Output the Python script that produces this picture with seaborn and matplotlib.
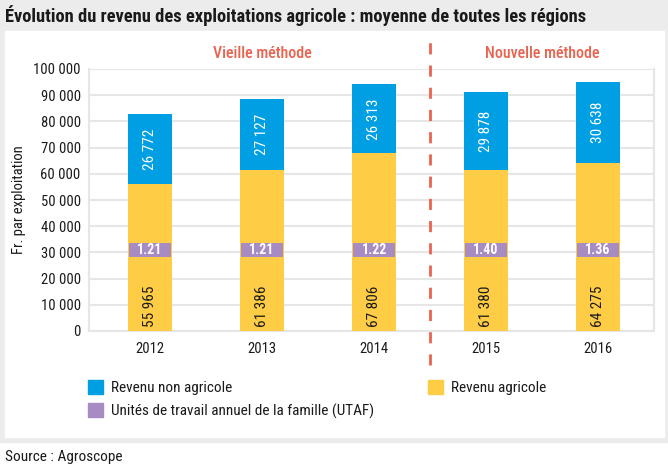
import matplotlib
matplotlib.use("Agg")
import matplotlib.pyplot as plt
import matplotlib.patches as mpatches
from matplotlib.ticker import FuncFormatter, FixedLocator
import seaborn as sns
import pandas as pd

years = ["2012", "2013", "2014", "2015", "2016"]
revenu_agricole = [55965, 61386, 67806, 61380, 64275]
revenu_non_agricole = [26772, 27127, 26313, 29878, 30638]
utaf = [1.21, 1.21, 1.22, 1.40, 1.36]

BLUE = "#009fe3"
YELLOW = "#fecd45"
PURPLE = "#a68cc3"
RED = "#ea6350"
GRID = "#e6e6e6"
TXT = "#1a1a1a"

sns.set_style("white")
plt.rcParams["font.family"] = ["Roboto Condensed", "Roboto", "DejaVu Sans"]

df = pd.DataFrame({"annee": years, "agri": revenu_agricole, "non_agri": revenu_non_agricole})
df["total"] = df["agri"] + df["non_agri"]

fig = plt.figure(figsize=(6.68, 4.70), dpi=100, facecolor="white")
# cadre gris et panneau blanc
fig.add_artist(mpatches.Rectangle((0, 28 / 470), 1, 1, transform=fig.transFigure, color="#ececec", zorder=-3))
fig.add_artist(mpatches.Rectangle((5 / 668, 33 / 470), 659 / 668, 406 / 470, transform=fig.transFigure,
                                  color="white", zorder=-2))

ax = fig.add_axes([89 / 668, 139 / 470, 565 / 668, 262 / 470])
ax.set_facecolor("none")

sns.barplot(data=df, x="annee", y="total", color=BLUE, width=0.4, linewidth=0, saturation=1, ax=ax, zorder=3)
sns.barplot(data=df, x="annee", y="agri", color=YELLOW, width=0.4, linewidth=0, saturation=1, ax=ax, zorder=3)
ax.bar(range(len(years)), [5300] * len(years), bottom=28400, width=0.37, color=PURPLE, linewidth=0, zorder=4)

for i in range(len(years)):
    ax.text(i, revenu_agricole[i] + revenu_non_agricole[i] / 2, f"{revenu_non_agricole[i]:,}".replace(",", " "),
            rotation=90, ha="center", va="center", color="white", fontsize=11, zorder=5)
    ax.text(i, 1500, f"{revenu_agricole[i]:,}".replace(",", " "),
            rotation=90, ha="center", va="bottom", color=TXT, fontsize=11, zorder=5)
    ax.text(i, 31050, f"{utaf[i]:.2f}", ha="center", va="center", color="white",
            fontsize=10, fontweight="bold", zorder=5)

ax.set_xlim(-0.545, 4.5)
ax.set_ylim(0, 100000)
ax.set_yticks(range(0, 100001, 10000))
ax.yaxis.set_major_formatter(FuncFormatter(lambda v, p: f"{int(v):,}".replace(",", " ")))
ax.grid(axis="y", color=GRID, linewidth=1.5, zorder=0)
ax.xaxis.set_minor_locator(FixedLocator([0.5, 1.5, 2.5, 3.5]))
ax.tick_params(axis="x", which="minor", length=6, width=1.5, color=GRID, direction="inout")
ax.tick_params(axis="x", which="major", length=0, labelsize=10.5, labelcolor=TXT, pad=8)
ax.tick_params(axis="y", length=0, labelsize=10.5, labelcolor=TXT, pad=6)
for side in ["left", "bottom", "right"]:
    ax.spines[side].set_color(GRID)
    ax.spines[side].set_linewidth(1.5)
ax.spines["top"].set_visible(False)
ax.set_xlabel("")
ax.set_ylabel("Fr. par exploitation", fontsize=10.5, color=TXT, labelpad=5)

ax.axvline(2.5, ymin=-0.13, ymax=1.11, color=RED, linewidth=2, dashes=(4, 4), clip_on=False, zorder=6)
ax.text(1, 1.06, "Vieille méthode", transform=ax.get_xaxis_transform(), ha="center", va="center",
        color=RED, fontsize=11.5, fontweight="medium")
ax.text(3.5, 1.06, "Nouvelle méthode", transform=ax.get_xaxis_transform(), ha="center", va="center",
        color=RED, fontsize=11.5, fontweight="medium")

fig.text(5 / 668, 1 - 16 / 470, "Évolution du revenu des exploitations agricole : moyenne de toutes les régions",
         ha="left", va="center", fontsize=13.3, fontweight="bold", color=TXT)
fig.text(5 / 668, 1 - 457 / 470, "Source : Agroscope", ha="left", va="center", fontsize=11, color=TXT)

h_blue = mpatches.Patch(color=BLUE, label="Revenu non agricole")
h_purple = mpatches.Patch(color=PURPLE, label="Unités de travail annuel de la famille (UTAF)")
h_yellow = mpatches.Patch(color=YELLOW, label="Revenu agricole")
leg_kw = dict(loc="upper left", frameon=False, fontsize=11, handlelength=1.0, handleheight=1.0,
              handletextpad=0.5, labelspacing=0.55, borderpad=0, borderaxespad=0, labelcolor=TXT)
fig.legend(handles=[h_blue, h_purple], bbox_to_anchor=(88 / 668, 1 - 380 / 470), **leg_kw)
fig.legend(handles=[h_yellow], bbox_to_anchor=(428 / 668, 1 - 380 / 470), **leg_kw)

fig.savefig("out.png", dpi=100, facecolor=fig.get_facecolor())
